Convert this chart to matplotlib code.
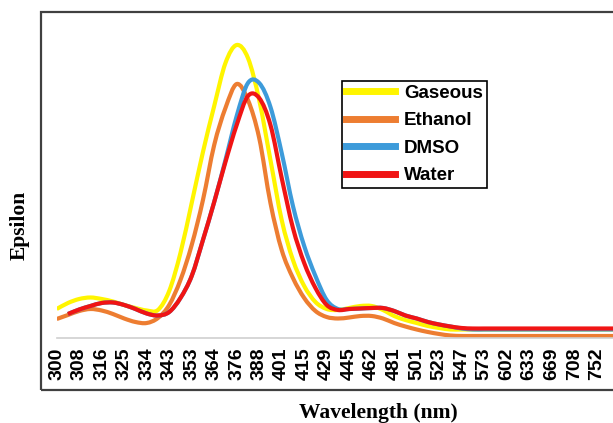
import numpy as np
import matplotlib
matplotlib.use("Agg")
import matplotlib.pyplot as plt
from matplotlib.patches import Rectangle, PathPatch
from matplotlib.path import Path

# category labels on the x axis (wavelength, nm)
wavelengths = ["300", "308", "316", "325", "334", "343", "353", "364", "376", "388",
               "401", "415", "429", "445", "462", "481", "501", "523", "547", "573",
               "602", "633", "669", "708", "752"]

# epsilon (arbitrary units), read every half category step
gaseous = [29, 35, 39, 40.5, 39, 36.5, 33, 30, 27.5, 28,
           47, 85, 135, 186, 232, 275, 293, 280, 238, 178,
           118, 78, 52, 36, 29, 28, 30, 32, 32, 28,
           22, 18, 15, 12, 10, 8.5, 8.5, 8.5, 8.5, 8.5,
           8.5, 8.5, 8.5, 8.5, 8.5, 8.5, 8.5, 8.5, 8.5, 8.5, 8.5]
ethanol = [19, 23, 27, 29, 27.5, 24, 19.5, 16, 15, 20,
           33, 58, 93, 138, 193, 230, 254, 238, 200, 135,
           88, 60, 40, 27, 21, 19.5, 20.5, 22, 22, 19.5,
           15, 11.5, 8.5, 6, 4, 2.5, 2, 2, 2, 2,
           2, 2, 2, 2, 2, 2, 2, 2, 2, 2, 2]
dmso = [np.nan, 24, 28.5, 32, 35, 35.5, 33, 29, 24.5, 22.5,
        26, 40, 62, 98, 136, 178, 222, 255, 255, 231,
        185, 132, 92, 62, 38, 29, 29, 29.5, 30, 30,
        27, 22.5, 19.5, 16, 13.5, 11.5, 9.5, 8.5, 8.5, 8.5,
        8.5, 8.5, 8.5, 8.5, 8.5, 8.5, 8.5, 8.5, 8.5, 8.5, 8.5]
water = [np.nan, 24, 28.5, 32, 35, 35.5, 33, 29, 24.5, 22.5,
         26, 40, 62, 98, 136, 176, 213, 242, 240, 213,
         160, 110, 75, 50, 33, 28, 29, 29.5, 30, 30,
         27, 22.5, 19.5, 16, 13.5, 11.5, 10, 9.5, 9.5, 9.5,
         9.5, 9.5, 9.5, 9.5, 9.5, 9.5, 9.5, 9.5, 9.5, 9.5, 9.5]

series = [("Gaseous", gaseous, "#FFF500"),
          ("Ethanol", ethanol, "#ED7D31"),
          ("DMSO", dmso, "#3D9BDA"),
          ("Water", water, "#F01414")]


def smooth_path(x, y):
    # Excel-style smoothed line: Bezier segments through the data points
    ok = ~np.isnan(y)
    p = np.column_stack([x[ok], y[ok]])
    verts = [p[0]]
    codes = [Path.MOVETO]
    n = len(p)
    for i in range(n - 1):
        p0 = p[max(i - 1, 0)]
        p1, p2 = p[i], p[i + 1]
        p3 = p[min(i + 2, n - 1)]
        verts += [p1 + (p2 - p0) / 6, p2 - (p3 - p1) / 6, p2]
        codes += [Path.CURVE4] * 3
    return Path(verts, codes)


W, H = 613, 423
fig = plt.figure(figsize=(W / 100, H / 100), dpi=100)

# outer chart border (cropped on the right in the original)
fig.patches.append(Rectangle((41 / W, 1 - 390 / H), 1.2, (390 - 12) / H,
                             transform=fig.transFigure, fill=False,
                             edgecolor="#404040", lw=1.6, clip_on=False))

ax = fig.add_axes([56.7 / W, 1 - 338 / H, (W - 56.7) / W, (338 - 12) / H])
ax.patch.set_alpha(0)

for name, vals, col in series:
    vals = np.array(vals, dtype=float)
    x = np.arange(len(vals)) * 0.5
    ax.add_patch(PathPatch(smooth_path(x, vals), fill=False, edgecolor=col,
                           lw=3, joinstyle="round", capstyle="butt"))
    ax.plot([], [], color=col, lw=3, label=name)

ax.set_xlim(0, (W - 56.7) / 22.5)
ax.set_ylim(0, 326)
ax.set_yticks([])
ax.set_xticks(range(len(wavelengths)))
ax.set_xticklabels(wavelengths, rotation=90, fontsize=14, fontweight="bold",
                   family="Liberation Sans")
ax.tick_params(axis="x", length=0, pad=7)
for s in ["top", "right", "left"]:
    ax.spines[s].set_visible(False)
ax.spines["bottom"].set_color("#cfcfcf")
ax.spines["bottom"].set_linewidth(1.2)

leg = ax.legend(loc="upper left", bbox_to_anchor=(342 / W, 1 - 81 / H),
                bbox_transform=fig.transFigure, borderaxespad=0,
                prop={"family": "Liberation Sans", "weight": "bold", "size": 13.5},
                handlelength=2.6, handletextpad=0.5, borderpad=0.2,
                labelspacing=0.55, fancybox=False, framealpha=1)
leg.get_frame().set_edgecolor("black")
leg.get_frame().set_linewidth(1.2)
for ln in leg.get_lines():
    ln.set_linewidth(5)

fig.text(378 / W, 1 - 413 / H, "Wavelength (nm)", ha="center", va="center",
         fontsize=15.5, fontweight="bold", family="Liberation Serif")
fig.text(19.5 / W, 1 - 225 / H, "Epsilon", ha="center", va="center", rotation=90,
         fontsize=15.5, fontweight="bold", family="Liberation Serif")

fig.savefig("out.png", dpi=100)
